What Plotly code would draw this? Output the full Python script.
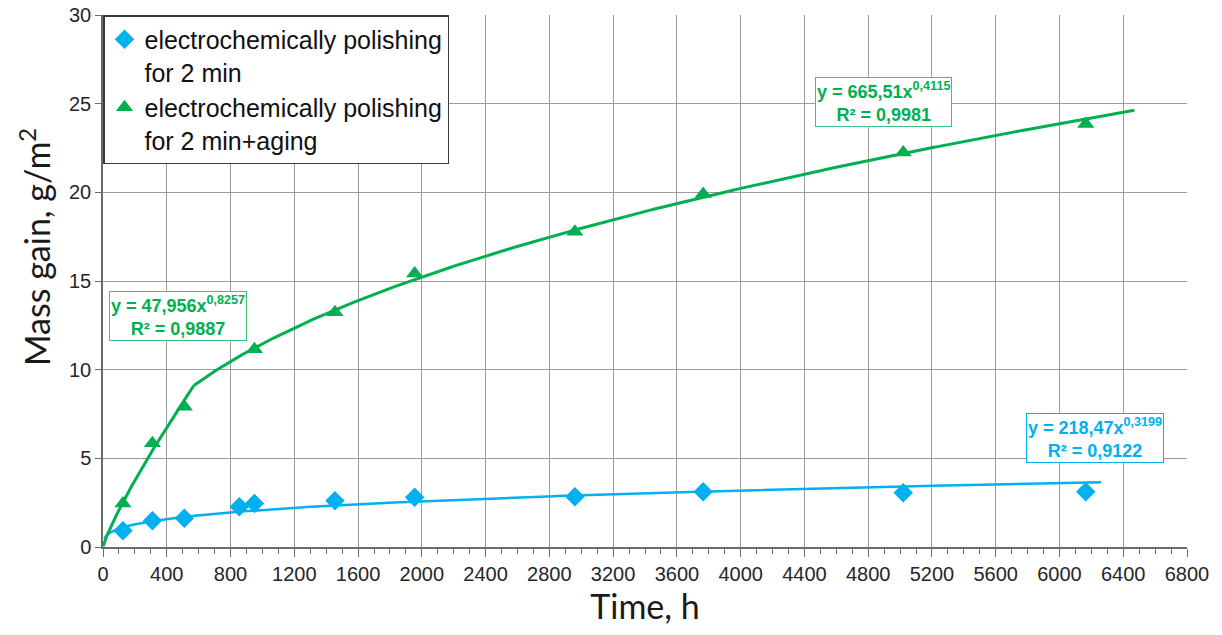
import numpy as np
import plotly.graph_objects as go

# ---- data ----
time_blue = [125, 310, 510, 855, 950, 1455, 1955, 2960, 3765, 5020, 6165]
gain_blue = [0.92, 1.48, 1.62, 2.27, 2.46, 2.61, 2.80, 2.84, 3.12, 3.06, 3.12]

time_green = [125, 310, 510, 950, 1455, 1955, 2960, 3765, 5020, 6165]
gain_green = [2.46, 5.85, 7.91, 11.15, 13.24, 15.42, 17.78, 19.91, 22.24, 23.86]

name_blue = "electrochemically polishing<br>for 2 min"
name_green = "electrochemically polishing<br>for 2 min+aging"

eq_blue = "y = 218,47x<sup>0,3199</sup><br>R² = 0,9122"
eq_green_early = "y = 47,956x<sup>0,8257</sup><br>R² = 0,9887"
eq_green_late = "y = 665,51x<sup>0,4115</sup><br>R² = 0,9981"

x_title = "Time, h"
y_title = "Mass gain, g/m<sup>2</sup>"

x_ticks = list(range(0, 6801, 400))
y_ticks = list(range(0, 31, 5))

# trendline extents (backward/forward forecast as in the reference)
blue_start, blue_end = 8, 6260
green_start, green_end = 1, 6470
n_early = 3  # green points used for the early power fit

BLUE = "#00B0F0"
GREEN = "#00B050"


def power_fit(x, y):
    b, ln_a = np.polyfit(np.log(x), np.log(y), 1)
    return np.exp(ln_a), b


a_b, b_b = power_fit(time_blue, gain_blue)
a_e, b_e = power_fit(time_green[:n_early], gain_green[:n_early])
a_l, b_l = power_fit(time_green[n_early:], gain_green[n_early:])
x_split = (a_l / a_e) ** (1.0 / (b_e - b_l))

xb = np.linspace(blue_start, blue_end, 400)
xe = np.linspace(green_start, x_split, 200)
xl = np.linspace(x_split, green_end, 400)

fig = go.Figure()
fig.add_trace(go.Scatter(x=xb, y=a_b * xb ** b_b, mode="lines",
                         line=dict(color=BLUE, width=2.5), showlegend=False, hoverinfo="skip"))
fig.add_trace(go.Scatter(x=xe, y=a_e * xe ** b_e, mode="lines",
                         line=dict(color=GREEN, width=3), showlegend=False, hoverinfo="skip"))
fig.add_trace(go.Scatter(x=xl, y=a_l * xl ** b_l, mode="lines",
                         line=dict(color=GREEN, width=3), showlegend=False, hoverinfo="skip"))
fig.add_trace(go.Scatter(x=time_blue, y=gain_blue, mode="markers", name=name_blue,
                         marker=dict(symbol="diamond", size=15, color=BLUE)))
fig.add_trace(go.Scatter(x=time_green, y=gain_green, mode="markers", name=name_green,
                         marker=dict(symbol="triangle-up", size=15, color=GREEN)))

ann_font = dict(family="Liberation Sans, Arial", size=18)
fig.add_annotation(x=4893, y=25.1, xref="x", yref="y", text="<b>" + eq_green_late + "</b>",
                   showarrow=False, font=dict(color=GREEN, **ann_font), align="center",
                   bgcolor="white", bordercolor="#3CC47A", borderwidth=1, borderpad=1)
fig.add_annotation(x=473, y=13.03, xref="x", yref="y", text="<b>" + eq_green_early + "</b>",
                   showarrow=False, font=dict(color=GREEN, **ann_font), align="center",
                   bgcolor="white", bordercolor="#3CC47A", borderwidth=1, borderpad=1)
fig.add_annotation(x=6222, y=6.15, xref="x", yref="y", text="<b>" + eq_blue + "</b>",
                   showarrow=False, font=dict(color=BLUE, **ann_font), align="center",
                   bgcolor="white", bordercolor=BLUE, borderwidth=1, borderpad=1)

# y-axis title (placed as in the reference, slightly above the plot centre)
fig.add_annotation(x=0, y=0.564, xref="paper", yref="paper", text=y_title, textangle=-90,
                   showarrow=False, xanchor="center", yanchor="middle", xshift=-68,
                   font=dict(family="Lato, Carlito, sans-serif", size=34, color="#1a1a1a"))

grid = "#9c9c9c"
axcol = "#6b6b6b"
tickfont = dict(family="Liberation Sans, Arial", size=20, color="#262626")
titlefont_x = dict(family="Lato, Carlito, sans-serif", size=34, color="#1a1a1a")

fig.update_xaxes(range=[0, 6800], tickvals=x_ticks, showgrid=True, gridcolor=grid, gridwidth=1,
                 showline=True, linecolor=axcol, linewidth=1.5, ticks="outside", ticklen=8,
                 tickcolor=axcol, tickfont=tickfont, zeroline=False, automargin=False,
                 ticklabeloverflow="allow",
                 minor=dict(dtick=100, tick0=0, ticks="outside", ticklen=5, tickcolor=axcol, showgrid=False),
                 title=dict(text=x_title, font=titlefont_x, standoff=8))
fig.update_yaxes(range=[0, 30], tickvals=y_ticks, showgrid=True, gridcolor=grid, gridwidth=1,
                 showline=True, linecolor=axcol, linewidth=1.5, ticks="outside", ticklen=6,
                 tickcolor=axcol, tickfont=tickfont, zeroline=False, automargin=False,
                 ticklabeloverflow="allow")

# page body has an 8px default margin: size the figure so it fits the 1222x635 window
fig.update_layout(
    width=1214, height=627,
    margin=dict(l=95, r=35, t=7, b=88),
    paper_bgcolor="white", plot_bgcolor="white",
    legend=dict(x=0, y=1, xanchor="left", yanchor="top", bgcolor="white",
                bordercolor="#3a3a3a", borderwidth=1.5, valign="top",
                font=dict(family="Liberation Sans, Arial", size=25, color="#111"),
                tracegroupgap=8, itemwidth=30),
)

fig.write_html("out.html")
